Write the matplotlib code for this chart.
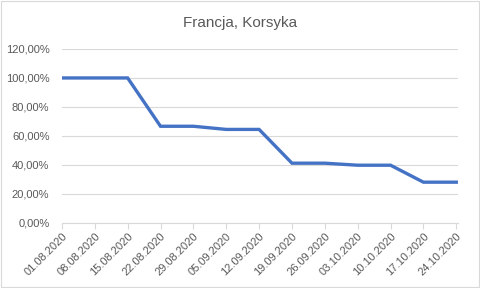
#!/usr/bin/python

import numpy as np
import matplotlib
matplotlib.use('Agg')
import matplotlib.pyplot as plt
from matplotlib.ticker import FuncFormatter

dates = ['01.08.2020', '08.08.2020', '15.08.2020', '22.08.2020', '29.08.2020',
         '05.09.2020', '12.09.2020', '19.09.2020', '26.09.2020', '03.10.2020',
         '10.10.2020', '17.10.2020', '24.10.2020']
values = [100.0, 100.0, 100.0, 66.67, 66.67, 64.5, 64.5, 41.2, 41.2, 39.8, 39.8, 28.1, 28.1]
y_ticks = [0, 20, 40, 60, 80, 100, 120]

txt_col = '#595959'
grid_col = '#D9D9D9'

plt.rcParams['font.family'] = ['Liberation Sans', 'DejaVu Sans']

fig = plt.figure(figsize=(4.8, 2.88), dpi=100)
ax = fig.add_axes([0.129, 0.226, 0.825, 0.604])

x = np.arange(len(dates))
ax.plot(x, values, color='#4472C4', linewidth=2.4, solid_joinstyle='miter', zorder=3)

ax.set_xlim(0, len(dates) - 1 + 0.05)
ax.set_ylim(0, 120)
ax.set_yticks(y_ticks)
ax.yaxis.set_major_formatter(FuncFormatter(lambda v, p: ('%.2f' % v).replace('.', ',') + '%'))
ax.set_xticks(x)
ax.set_xticklabels(dates, rotation=45, ha='right', rotation_mode='anchor')

ax.grid(axis='y', color=grid_col, linewidth=0.8)
ax.set_axisbelow(True)
for side in ['top', 'right', 'left']:
    ax.spines[side].set_visible(False)
ax.spines['bottom'].set_color(grid_col)
ax.spines['bottom'].set_linewidth(0.8)

ax.tick_params(axis='y', length=0, labelsize=8, labelcolor=txt_col, pad=9)
ax.tick_params(axis='x', length=4, color=grid_col, labelsize=8, labelcolor=txt_col, pad=2)

fig.text(0.5, 0.92, 'Francja, Korsyka', ha='center', va='center', fontsize=11, color=txt_col)

border = plt.Rectangle((0.002, 0.003), 0.996, 0.994, transform=fig.transFigure,
                       fill=False, edgecolor=grid_col, linewidth=0.8)
fig.patches.append(border)

fig.savefig('out.png', dpi=100)
